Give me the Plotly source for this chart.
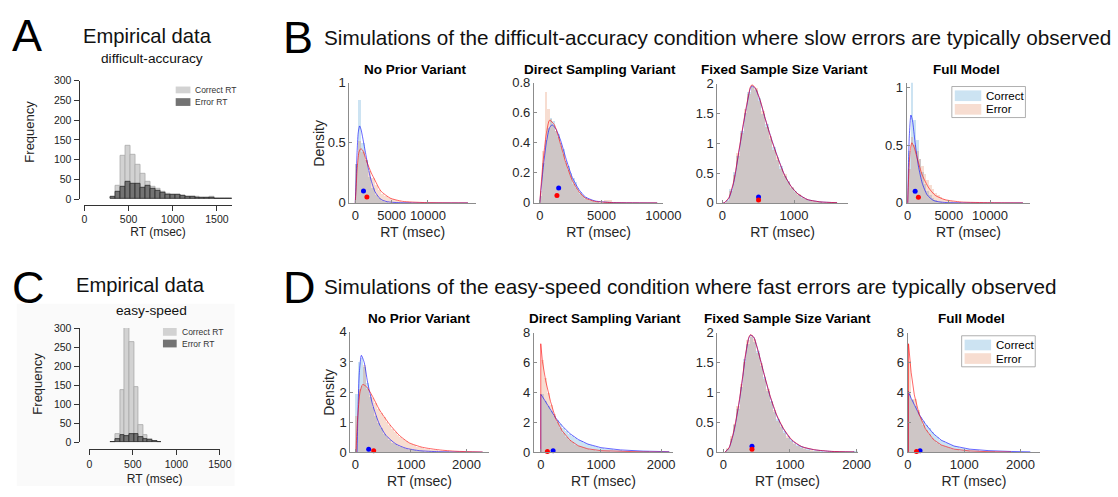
import plotly.graph_objects as go

FW, FH = 1118, 497
FONT = "Liberation Sans, Arial, Helvetica, sans-serif"

# ---------------- Empirical data (panels A and C) ----------------
A_bin_start, A_bin_width = 300, 56
A_correct = [3, 33, 110, 136, 112, 86, 63, 43, 30, 26, 18, 14, 12, 12, 8, 7, 5, 5, 4, 3, 5, 2, 2, 2, 2]
A_error = [5, 18, 30, 45, 38, 38, 28, 33, 25, 20, 15, 10, 12, 12, 8, 6, 5, 4, 3, 3, 3, 2, 2, 2, 2]
A_xticks = [0, 500, 1000, 1500]
A_yticks = [0, 50, 100, 150, 200, 250, 300]

C_bin_start, C_bin_width = 247, 53
C_correct = [0, 22, 137, 340, 263, 145, 46, 20, 10, 5, 2]
C_error = [0, 8, 20, 18, 23, 22, 14, 10, 7, 4, 2]
C_xticks = [0, 500, 1000, 1500]
C_yticks = [0, 50, 100, 150, 200, 250, 300]

# ---------------- Simulations: difficult-accuracy (B) ----------------
# B1 No Prior Variant
B1_bins = (0, 450)
B1_correct_hist = [0.33, 0.86, 0.50, 0.36, 0.22, 0.13, 0.07, 0.04, 0.02, 0.01, 0.005]
B1_error_hist = [0.33, 0.52, 0.43, 0.36, 0.27, 0.21, 0.15, 0.11, 0.08, 0.06, 0.045, 0.033, 0.025, 0.018,
                 0.012, 0.01, 0.007, 0.005, 0.004, 0.003]
B1_correct_x = [0, 100, 250, 400, 600, 800, 1000, 1400, 2000, 2700, 3500, 4400, 6000, 9000, 15500]
B1_correct_y = [0, 0.15, 0.42, 0.58, 0.64, 0.61, 0.55, 0.42, 0.23, 0.095, 0.03, 0.01, 0.002, 0.0, 0.0]
B1_error_x = [0, 100, 250, 500, 750, 1000, 1600, 2200, 2700, 3500, 4800, 6500, 9500, 15500]
B1_error_y = [0, 0.1, 0.28, 0.42, 0.45, 0.44, 0.34, 0.25, 0.19, 0.1, 0.04, 0.013, 0.003, 0.0]
B1_mean_correct = (1130, 0.1)
B1_mean_error = (1600, 0.05)

# B2 Direct Sampling Variant
B2_bins = (0, 200)
B2_correct_hist = [0.05, 0.27, 0.42, 0.5, 0.57, 0.55, 0.48, 0.46, 0.4, 0.36, 0.28, 0.25, 0.2, 0.17, 0.14,
                   0.1, 0.075, 0.055, 0.04, 0.028, 0.02, 0.014, 0.01, 0.007, 0.005, 0.003]
B2_error_hist = [0.08, 0.35, 0.74, 0.63, 0.56, 0.52, 0.48, 0.44, 0.38, 0.33, 0.27, 0.22, 0.18, 0.13, 0.1,
                 0.08, 0.06, 0.045, 0.03, 0.022, 0.016, 0.012, 0.008, 0.006, 0.004, 0.003, 0.02, 0.02, 0.02]
B2_correct_x = [0, 260, 530, 790, 1000, 1320, 1710, 2100, 2630, 3160, 3680, 4470, 5800, 9500]
B2_correct_y = [0, 0.22, 0.40, 0.50, 0.52, 0.49, 0.41, 0.30, 0.17, 0.09, 0.04, 0.013, 0.003, 0]
B2_error_x = [0, 260, 530, 790, 1180, 1580, 2100, 2630, 3160, 3680, 4470, 5800, 9500]
B2_error_y = [0, 0.27, 0.46, 0.55, 0.52, 0.42, 0.27, 0.15, 0.076, 0.032, 0.01, 0.002, 0]
B2_mean_correct = (1530, 0.1)
B2_mean_error = (1390, 0.05)

# B3 Fixed Sample Size Variant
B3_bins = (0, 50)
B3_correct_hist = [0.0, 0.06, 0.24, 0.52, 0.8, 1.22, 1.52, 1.87, 1.95, 1.9, 1.76, 1.5, 1.33, 1.08, 0.94, 0.73,
                   0.62, 0.45, 0.37, 0.26, 0.2, 0.14, 0.11, 0.07, 0.05, 0.03, 0.026, 0.015, 0.012, 0.007,
                   0.005, 0.003]
B3_error_hist = [0.0, 0.04, 0.2, 0.48, 0.85, 1.18, 1.58, 1.83, 1.99, 1.94, 1.72, 1.55, 1.28, 1.12, 0.9, 0.77,
                 0.58, 0.49, 0.35, 0.28, 0.19, 0.16, 0.09, 0.08, 0.04, 0.04, 0.02, 0.02, 0.01, 0.009,
                 0.004, 0.004]
B3_correct_x = [0, 25, 92, 160, 230, 300, 345, 390, 413, 460, 528, 596, 688, 780, 870, 963, 1055, 1190, 1376, 1600]
B3_correct_y = [0, 0, 0.08, 0.35, 0.85, 1.36, 1.66, 1.92, 1.96, 1.92, 1.71, 1.42, 1.06, 0.74, 0.46, 0.27, 0.15,
                0.055, 0.016, 0.004]
B3_error_x = [0, 25, 92, 160, 230, 300, 345, 390, 413, 460, 528, 596, 688, 780, 870, 963, 1055, 1190, 1376, 1600]
B3_error_y = [0, 0, 0.09, 0.37, 0.87, 1.38, 1.68, 1.94, 1.98, 1.93, 1.72, 1.42, 1.05, 0.73, 0.46, 0.27, 0.15,
              0.055, 0.016, 0.004]
B3_mean_correct = (505, 0.1)
B3_mean_error = (505, 0.05)

# B4 Full Model
B4_bins = (0, 320)
B4_correct_hist = [0.45, 1.05, 0.72, 0.55, 0.38, 0.27, 0.17, 0.11, 0.07, 0.045, 0.025, 0.015, 0.008, 0.005]
B4_error_hist = [0.3, 0.57, 0.5, 0.45, 0.38, 0.32, 0.25, 0.2, 0.16, 0.12, 0.09, 0.07, 0.055, 0.04, 0.03,
                 0.023, 0.017, 0.013, 0.01, 0.007, 0.005, 0.004]
B4_correct_x = [0, 100, 200, 390, 590, 900, 1300, 1770, 2360, 3150, 4500, 8000, 14000]
B4_correct_y = [0, 0.35, 0.58, 0.76, 0.71, 0.52, 0.32, 0.17, 0.07, 0.02, 0.004, 0, 0]
B4_error_x = [0, 100, 200, 350, 510, 790, 1180, 1770, 2560, 3350, 4530, 6500, 10000, 14000]
B4_error_y = [0, 0.2, 0.35, 0.48, 0.52, 0.48, 0.38, 0.24, 0.13, 0.065, 0.028, 0.008, 0.002, 0]
B4_mean_correct = (905, 0.1)
B4_mean_error = (1300, 0.05)

# ---------------- Simulations: easy-speed (D) ----------------
D1_bins = (0, 50)
D1_correct_hist = [1.95, 3.0, 3.15, 2.85, 2.3, 1.85, 1.5, 1.2, 0.97, 0.8, 0.62, 0.5, 0.4, 0.32, 0.27, 0.21,
                   0.17, 0.14, 0.12, 0.09, 0.07, 0.06, 0.05, 0.04, 0.03, 0.025, 0.02, 0.016, 0.013, 0.01,
                   0.008, 0.006]
D1_error_hist = [1.2, 2.1, 2.2, 2.9, 2.1, 1.95, 1.82, 1.65, 1.45, 1.3, 1.17, 1.02, 0.9, 0.78, 0.68, 0.58,
                 0.5, 0.43, 0.36, 0.31, 0.28, 0.24, 0.19, 0.16, 0.14, 0.12, 0.1, 0.085, 0.07, 0.06, 0.05,
                 0.04, 0.035, 0.03, 0.025]
D1_correct_x = [30, 40, 50, 72, 108, 160, 220, 311, 430, 550, 730, 910, 1150, 1500, 2290]
D1_correct_y = [0, 0.8, 1.58, 2.65, 3.22, 2.98, 2.33, 1.58, 0.94, 0.56, 0.27, 0.13, 0.05, 0.015, 0]
D1_error_x = [12, 25, 42, 84, 132, 204, 311, 430, 610, 790, 970, 1210, 1510, 1810, 2290]
D1_error_y = [0, 0.6, 1.15, 2.0, 2.25, 2.17, 1.85, 1.42, 0.94, 0.56, 0.31, 0.16, 0.075, 0.03, 0.005]
D1_mean_correct = (240, 0.1)
D1_mean_error = (330, 0.05)

D2_bins = (0, 50)
D2_correct_hist = [3.9, 3.45, 3.1, 2.8, 2.45, 2.15, 1.9, 1.65, 1.45, 1.26, 1.1, 0.96, 0.84, 0.73, 0.63, 0.55,
                   0.49, 0.44, 0.38, 0.32, 0.28, 0.25, 0.22, 0.19, 0.17, 0.155, 0.14, 0.12, 0.11, 0.1, 0.09,
                   0.08, 0.075, 0.07, 0.06, 0.055, 0.05, 0.045, 0.04, 0.035, 0.03, 0.03, 0.025, 0.02]
D2_error_hist = [6.2, 5.0, 4.0, 3.2, 2.55, 2.0, 1.6, 1.3, 1.05, 0.83, 0.66, 0.52, 0.42, 0.34, 0.27, 0.22,
                 0.18, 0.15, 0.12, 0.1, 0.08, 0.07, 0.06, 0.05, 0.045, 0.04, 0.035, 0.03, 0.025, 0.02,
                 0.015, 0.012, 0.01]
D2_correct_x = [0, 0, 27, 81, 162, 243, 351, 486, 622, 784, 1000, 1324, 1700, 2135]
D2_correct_y = [0, 3.88, 3.73, 3.4, 2.86, 2.32, 1.78, 1.24, 0.85, 0.54, 0.3, 0.15, 0.07, 0.03]
D2_error_x = [0, 0, 27, 81, 162, 243, 351, 486, 622, 784, 1000, 1324, 1700, 2135]
D2_error_y = [0, 7.27, 6.1, 4.8, 3.4, 2.3, 1.45, 0.8, 0.43, 0.22, 0.1, 0.04, 0.015, 0.005]
D2_mean_correct = (205, 0.1)
D2_mean_error = (110, 0.05)

D3_bins = (0, 50)
D3_correct_hist = [0, 0.05, 0.22, 0.45, 0.73, 1.1, 1.57, 1.82, 1.93, 1.85, 1.7, 1.44, 1.27, 1.02, 0.86, 0.67,
                   0.56, 0.42, 0.35, 0.24, 0.21, 0.14, 0.12, 0.1, 0.06, 0.05, 0.03, 0.03, 0.02, 0.015, 0.01,
                   0.008, 0.006, 0.005, 0.004, 0.003, 0.003, 0.002, 0.002, 0.02, 0.02]
D3_error_hist = [0, 0.07, 0.28, 0.48, 0.78, 1.14, 1.52, 1.88, 1.96, 1.9, 1.66, 1.5, 1.23, 1.06, 0.84, 0.71,
                 0.53, 0.46, 0.33, 0.27, 0.19, 0.16, 0.1, 0.08, 0.08, 0.04, 0.04, 0.02, 0.02, 0.01, 0.008,
                 0.005, 0.003]
D3_correct_x = [25, 84, 158, 233, 282, 332, 381, 406, 455, 530, 604, 703, 802, 901, 1025, 1173, 1371, 1619, 1965]
D3_correct_y = [0, 0.065, 0.34, 0.8, 1.18, 1.61, 1.91, 1.96, 1.93, 1.66, 1.34, 0.93, 0.61, 0.39, 0.2, 0.092,
                0.038, 0.012, 0.004]
D3_error_x = [25, 84, 158, 233, 282, 332, 381, 406, 455, 530, 604, 703, 802, 901, 1025, 1173, 1371, 1619, 1965]
D3_error_y = [0, 0.07, 0.36, 0.82, 1.2, 1.63, 1.92, 1.97, 1.93, 1.66, 1.34, 0.94, 0.62, 0.4, 0.21, 0.095,
              0.04, 0.013, 0.004]
D3_mean_correct = (430, 0.1)
D3_mean_error = (430, 0.05)

D4_bins = (0, 50)
D4_correct_hist = [3.9, 3.5, 3.1, 2.7, 2.4, 2.1, 1.82, 1.6, 1.36, 1.15, 1.0, 0.85, 0.74, 0.63, 0.54, 0.47,
                   0.41, 0.35, 0.3, 0.26, 0.23, 0.2, 0.18, 0.16, 0.14, 0.12, 0.1, 0.09, 0.08, 0.07, 0.06,
                   0.05, 0.045, 0.04, 0.035, 0.03, 0.025, 0.022, 0.02, 0.018, 0.03, 0.02]
D4_error_hist = [6.1, 3.6, 3.55, 2.85, 2.3, 1.85, 1.5, 1.2, 0.95, 0.78, 0.63, 0.5, 0.42, 0.34, 0.28, 0.22,
                 0.18, 0.14, 0.11, 0.09, 0.07, 0.055, 0.045, 0.035, 0.03, 0.025, 0.02, 0.015, 0.012, 0.01]
D4_correct_x = [0, 0, 56, 113, 198, 311, 452, 593, 819, 1100, 1440, 1836, 2175]
D4_correct_y = [0, 4.1, 3.62, 3.19, 2.54, 1.89, 1.24, 0.8, 0.41, 0.2, 0.1, 0.045, 0.02]
D4_error_x = [10, 10, 56, 113, 198, 311, 452, 593, 819, 1100, 1440, 1836]
D4_error_y = [0, 7.27, 5.36, 3.84, 2.54, 1.56, 0.85, 0.48, 0.2, 0.08, 0.03, 0.01]
D4_mean_correct = (215, 0.1)
D4_mean_error = (152, 0.05)

# ---------------- Styling ----------------
BLUE_FILL = "rgba(0,114,189,0.2)"
RED_FILL = "rgba(217,83,25,0.2)"
BLUE_LINE = "rgba(0,0,255,0.6)"
RED_LINE = "rgba(255,0,0,0.6)"
AX_COL = "#8c8c8c"
TXT = "#262626"


def fx(px):
    return px / FW


def fy(py):
    return 1 - py / FH


def px_x(a, b):
    return [fx(a), fx(b)]


def px_y(top, bottom):
    return [fy(bottom), fy(top)]


def centers(start, width, n):
    return [start + width * (i + 0.5) for i in range(n)]


fig = go.Figure()

# ---- Empirical histograms ----
for ax, start, width, corr, err in [("", A_bin_start, A_bin_width, A_correct, A_error),
                                    ("2", C_bin_start, C_bin_width, C_correct, C_error)]:
    fig.add_trace(go.Bar(x=centers(start, width, len(corr)), y=corr, width=width,
                         marker=dict(color="#d2d2d2", line=dict(color="#a9a9a9", width=0.8)),
                         xaxis="x" + ax, yaxis="y" + ax, showlegend=False))
    fig.add_trace(go.Bar(x=centers(start, width, len(err)), y=err, width=width,
                         marker=dict(color="#737373", line=dict(color="#2b2b2b", width=0.8)),
                         xaxis="x" + ax, yaxis="y" + ax, showlegend=False))

# ---- Simulation panels ----
sim_data = [
    (B1_bins, B1_correct_hist, B1_error_hist, B1_correct_x, B1_correct_y, B1_error_x, B1_error_y, B1_mean_correct, B1_mean_error),
    (B2_bins, B2_correct_hist, B2_error_hist, B2_correct_x, B2_correct_y, B2_error_x, B2_error_y, B2_mean_correct, B2_mean_error),
    (B3_bins, B3_correct_hist, B3_error_hist, B3_correct_x, B3_correct_y, B3_error_x, B3_error_y, B3_mean_correct, B3_mean_error),
    (B4_bins, B4_correct_hist, B4_error_hist, B4_correct_x, B4_correct_y, B4_error_x, B4_error_y, B4_mean_correct, B4_mean_error),
    (D1_bins, D1_correct_hist, D1_error_hist, D1_correct_x, D1_correct_y, D1_error_x, D1_error_y, D1_mean_correct, D1_mean_error),
    (D2_bins, D2_correct_hist, D2_error_hist, D2_correct_x, D2_correct_y, D2_error_x, D2_error_y, D2_mean_correct, D2_mean_error),
    (D3_bins, D3_correct_hist, D3_error_hist, D3_correct_x, D3_correct_y, D3_error_x, D3_error_y, D3_mean_correct, D3_mean_error),
    (D4_bins, D4_correct_hist, D4_error_hist, D4_correct_x, D4_correct_y, D4_error_x, D4_error_y, D4_mean_correct, D4_mean_error),
]
smooth = [True, True, True, True, True, False, True, False]

# pixel layout for each simulation axis: x0, x1, ytop, ybottom, xrange, yrange, xticks, yticks
sim_layout = [
    (353, 482, 78, 202, [-810, 16600], [0, 1], [0, 5000, 10000], [0, 0.5, 1]),
    (541, 673, 78, 202, [-480, 10000], [0, 0.8], [0, 5000, 10000], [0, 0.2, 0.4, 0.6, 0.8]),
    (728, 861, 79, 202, [-70, 1750], [0, 2], [0, 1000], [0, 0.5, 1, 1.5, 2]),
    (921, 1047, 78, 202, [-120, 14900], [0, 1.04], [0, 5000, 10000], [0, 0.5, 1]),
    (354, 495, 335, 459, [-90, 2400], [0, 4], [0, 1000, 2000], [0, 1, 2, 3, 4]),
    (541, 683, 336, 459, [-115, 2200], [0, 8], [0, 1000, 2000], [0, 2, 4, 6, 8]),
    (728, 871, 336, 459, [-90, 2015], [0, 2], [0, 1000, 2000], [0, 0.5, 1, 1.5, 2]),
    (922, 1057, 336, 459, [-5, 2350], [0, 8], [0, 1000, 2000], [0, 2, 4, 6, 8]),
]

layout_axes = {}
for i, (d, lay) in enumerate(zip(sim_data, sim_layout)):
    n = i + 3
    xa, ya = "x%d" % n, "y%d" % n
    (start, width), ch, eh, cx, cy, ex, ey, mc, me = d
    fig.add_trace(go.Bar(x=centers(start, width, len(ch)), y=ch, width=width,
                         marker=dict(color=BLUE_FILL, line=dict(width=0)),
                         xaxis=xa, yaxis=ya, showlegend=False))
    fig.add_trace(go.Bar(x=centers(start, width, len(eh)), y=eh, width=width,
                         marker=dict(color=RED_FILL, line=dict(width=0)),
                         xaxis=xa, yaxis=ya, showlegend=False))
    shape = "spline" if smooth[i] else "linear"
    fig.add_trace(go.Scatter(x=cx, y=cy, mode="lines",
                             line=dict(color=BLUE_LINE, width=1, shape=shape, smoothing=0.6),
                             xaxis=xa, yaxis=ya, showlegend=False, cliponaxis=True))
    fig.add_trace(go.Scatter(x=ex, y=ey, mode="lines",
                             line=dict(color=RED_LINE, width=1, shape=shape, smoothing=0.6),
                             xaxis=xa, yaxis=ya, showlegend=False, cliponaxis=True))
    fig.add_trace(go.Scatter(x=[mc[0]], y=[mc[1]], mode="markers",
                             marker=dict(color="#0000ff", size=5),
                             xaxis=xa, yaxis=ya, showlegend=False, cliponaxis=False))
    fig.add_trace(go.Scatter(x=[me[0]], y=[me[1]], mode="markers",
                             marker=dict(color="#ff0000", size=5),
                             xaxis=xa, yaxis=ya, showlegend=False, cliponaxis=False))

    x0, x1, yt, yb, xr, yr, xt, yt_vals = lay
    layout_axes["xaxis%d" % n] = dict(
        domain=px_x(x0, x1), range=xr, anchor=ya, showline=True, linecolor=AX_COL, linewidth=1,
        ticks="inside", ticklen=3, tickcolor=AX_COL, tickvals=xt, tickformat="d",
        tickfont=dict(size=13, color=TXT, family=FONT), showgrid=False, zeroline=False,
        title=dict(text="RT (msec)", font=dict(size=14, color=TXT, family=FONT), standoff=5))
    layout_axes["yaxis%d" % n] = dict(
        domain=px_y(yt, yb), range=yr, anchor=xa, showline=True, linecolor=AX_COL, linewidth=1,
        ticks="inside", ticklen=3, tickcolor=AX_COL, tickvals=yt_vals,
        tickfont=dict(size=13, color=TXT, family=FONT), showgrid=False, zeroline=False)

# ---- Empirical axes ----
emp_axis_common = dict(showline=True, linecolor="#333333", linewidth=1, ticks="outside", ticklen=5,
                       tickcolor="#333333", showgrid=False, zeroline=False,
                       tickfont=dict(size=10.5, color="#222222", family=FONT))
layout_axes["xaxis"] = dict(domain=px_x(83, 233), range=[0, 1667], anchor="free", position=fy(204),
                            tickvals=A_xticks, tickformat="d",
                            title=dict(text="RT (msec)", font=dict(size=12, color="#222", family=FONT), standoff=3),
                            **emp_axis_common)
layout_axes["yaxis"] = dict(domain=px_y(76, 198), range=[0, 300], anchor="free", position=fx(77),
                            tickvals=A_yticks, **emp_axis_common)
layout_axes["xaxis2"] = dict(domain=px_x(88, 221), range=[0, 1500], anchor="free", position=fy(456),
                             tickvals=C_xticks, tickformat="d",
                             title=dict(text="RT (msec)", font=dict(size=12, color="#222", family=FONT), standoff=5),
                             **emp_axis_common)
layout_axes["yaxis2"] = dict(domain=px_y(331, 449), range=[0, 300], anchor="free", position=fx(77),
                             tickvals=C_yticks, **emp_axis_common)

# ---- Text annotations ----
ann = []


def text(s, x, y, size, xanchor="center", bold=False, color="#111111", angle=0):
    ann.append(dict(text="<b>%s</b>" % s if bold else s, x=fx(x), y=fy(y), xref="paper", yref="paper",
                    xanchor=xanchor, yanchor="middle", showarrow=False, textangle=angle,
                    font=dict(size=size, color=color, family=FONT)))


text("A", 7, 29, 45, "left", color="#000")
text("B", 283, 31, 45, "left", color="#000")
text("C", 7, 289, 45, "left", color="#000")
text("D", 283, 289, 45, "left", color="#000")
text("Empirical data", 147, 30, 20.2)
text("difficult-accuracy", 152, 53, 13.7)
text("Empirical data", 140, 287, 20.2)
text("easy-speed", 151, 313, 13.7)
text("Simulations of the difficult-accuracy condition where slow errors are typically observed", 325, 31, 20.7, "left")
text("Simulations of the easy-speed condition where fast errors are typically observed", 325, 288, 20.7, "left")
for s, x, y in [("No Prior Variant", 420, 64), ("Direct Sampling Variant", 608, 64),
                ("Fixed Sample Size Variant", 796, 64), ("Full Model", 982, 64),
                ("No Prior Variant", 424, 321), ("Direct Sampling Variant", 614, 321),
                ("Fixed Sample Size Variant", 800, 321), ("Full Model", 987, 321)]:
    text(s, x, y, 13.5, bold=True, color="#000")

text("Density", 322, 140, 14, color=TXT, angle=-90)
text("Density", 332, 397, 14, color=TXT, angle=-90)
text("Frequency", 27, 128, 13, color="#222", angle=-90)
text("Frequency", 35, 388, 13, color="#222", angle=-90)

# legends (drawn as patches + text)
shapes = []


def rect(x0, y0, x1, y1, fill, line="rgba(0,0,0,0)", lw=0, layer="above"):
    shapes.append(dict(type="rect", xref="paper", yref="paper", x0=fx(x0), x1=fx(x1),
                       y0=fy(y1), y1=fy(y0), fillcolor=fill, line=dict(color=line, width=lw),
                       layer=layer))


rect(14, 306, 236, 494, "#fafafa", layer="below")
rect(176, 82, 191, 89, "#d2d2d2")
rect(176, 94, 191, 102, "#737373")
text("Correct RT", 194, 85.5, 8.5, "left", color="#333")
text("Error RT", 194, 98, 8.5, "left", color="#333")
rect(163, 331, 177, 339, "#d2d2d2")
rect(163, 343, 177, 351, "#737373")
text("Correct RT", 180, 335, 8.5, "left", color="#333")
text("Error RT", 180, 347, 8.5, "left", color="#333")

for (bx0, by0, bx1, by1) in [(967, 82, 1042, 114), (977, 339, 1052, 371)]:
    rect(bx0, by0, bx1, by1, "white", "#9a9a9a", 0.8)
    rect(bx0 + 3, by0 + 4, bx0 + 30, by0 + 15, BLUE_FILL)
    rect(bx0 + 3, by0 + 18, bx0 + 30, by0 + 29, RED_FILL)
    text("Correct", bx0 + 33, by0 + 9.5, 11.5, "left", color="#000")
    text("Error", bx0 + 33, by0 + 23.5, 11.5, "left", color="#000")

fig.update_layout(
    width=FW, height=FH, margin=dict(l=0, r=0, t=0, b=0), autosize=False,
    paper_bgcolor="white", plot_bgcolor="rgba(0,0,0,0)", barmode="overlay", bargap=0,
    font=dict(family=FONT, color=TXT), annotations=ann, shapes=shapes, showlegend=False,
    **layout_axes)

fig.write_html("out.html", config={"displayModeBar": False},
               post_script="document.body.style.margin='0px';document.documentElement.style.overflow='hidden';")
